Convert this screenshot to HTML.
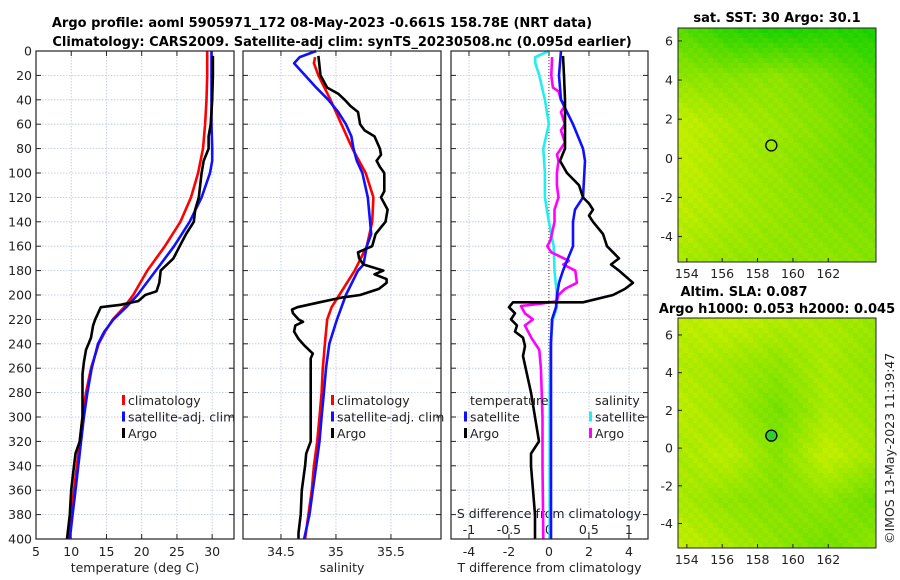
<!DOCTYPE html>
<html><head><meta charset="utf-8"><style>
body{margin:0;background:#fff;}
svg{display:block;font-family:"DejaVu Sans","Liberation Sans",sans-serif;}
.t{font-size:12.5px;fill:#222}
.b{font-weight:bold;font-size:13px;fill:#000}
</style></head><body>
<svg id="c" width="900" height="580" xmlns="http://www.w3.org/2000/svg">
<text class="b" x="322" y="27" text-anchor="middle">Argo profile: aoml 5905971_172 08-May-2023 -0.661S 158.78E (NRT data)</text>
<text class="b" x="342" y="46" text-anchor="middle">Climatology: CARS2009. Satellite-adj clim: synTS_20230508.nc (0.095d earlier)</text>
<text class="b" x="777" y="22" text-anchor="middle">sat. SST: 30 Argo: 30.1</text>
<text class="b" x="744" y="296" text-anchor="middle">Altim. SLA: 0.087</text>
<text class="b" x="777" y="313" text-anchor="middle">Argo h1000: 0.053 h2000: 0.045</text>
<text class="t" transform="translate(894,544) rotate(-90)">©IMOS 13-May-2023 11:39:47</text>
<g id="g"></g>
</svg>
<script>
// ---- data ----
const depthTicks=[0,20,40,60,80,100,120,140,160,180,200,220,240,260,280,300,320,340,360,380,400];
const tempTicks=[5,10,15,20,25,30];
const salTicks=[34.5,35,35.5];
const tdTicks=[-4,-2,0,2,4];
const sdTicks=[-1,-0.5,0,0.5,1];
const sdTickLabels=["-1","-0.5","0","0.5","1"];
const climTDepth=[0,20,40,60,80,100,120,140,160,180,200,210,220,230,240,260,280,300,320,340,360,380,400];
const climT=[29.3,29.3,29.2,29,28.7,28,27,25.5,23.3,20.8,18.8,17.5,15.9,14.8,13.9,12.8,12.1,11.6,11.2,10.8,10.4,10,9.6];
const satTDepth=[0,20,60,80,90,100,120,140,160,180,200,210,220,230,240,260,280,300,320,340,360,380,400];
const satT=[29.9,29.9,29.9,30,30,29.7,28.5,26.8,24.6,22,19.4,17.8,16,14.7,13.8,12.9,12.3,11.8,11.4,11,10.6,10.2,9.8];
const argoTDepth=[4,20,40,60,70,80,90,100,120,130,140,150,160,170,180,190,197,200,205,208,210,215,220,225,235,245,255,265,280,300,315,320,330,340,360,380,400];
const argoT=[30.1,30.1,30,29.8,29.5,29.5,28.8,28.5,28.1,27.6,27.4,26.3,25.4,24.5,22.7,22.5,22.1,20.5,19.5,17,14.2,13.8,13.4,13.1,12.8,12.1,11.8,11.6,11.6,11.6,11.3,11.2,10.6,10.4,10,9.8,9.4];
const climSDepth=[5,10,20,40,60,80,100,120,140,160,180,200,210,220,240,260,280,300,320,340,360,380,400];
const climS=[34.81,34.8,34.84,34.95,35.05,35.15,35.27,35.34,35.33,35.28,35.17,35.03,34.96,34.92,34.9,34.88,34.87,34.85,34.83,34.8,34.78,34.75,34.72];
const satSDepth=[0,5,10,20,30,40,50,60,70,80,90,100,120,140,150,160,175,180,200,220,240,260,280,300,320,340,360,380,400];
const satS=[34.82,34.67,34.62,34.72,34.82,34.93,35.02,35.09,35.14,35.16,35.19,35.24,35.29,35.31,35.32,35.28,35.25,35.2,35.09,35.01,34.94,34.91,34.89,34.87,34.85,34.82,34.79,34.76,34.71];
const argoSDepth=[4,20,30,35,40,45,50,60,65,70,80,85,90,95,100,115,120,130,140,150,160,165,170,175,180,183,187,190,195,200,202,206,210,212,215,220,222,225,230,236,242,248,252,255,265,300,320,330,340,360,380,395,400];
const argoS=[34.84,34.86,34.92,35.02,35.08,35.13,35.2,35.22,35.26,35.35,35.4,35.41,35.37,35.4,35.44,35.44,35.41,35.47,35.45,35.36,35.33,35.2,35.21,35.25,35.43,35.35,35.46,35.46,35.39,35.22,35.06,34.85,34.65,34.6,34.61,34.66,34.7,34.63,34.62,34.66,34.72,34.79,34.77,34.77,34.77,34.77,34.77,34.73,34.72,34.69,34.68,34.66,34.66];
const satTdDepth=[0,20,40,60,80,90,120,130,140,160,180,190,200,210,220,240,280,400];
const satTd=[0.6,0.5,0.6,1.2,1.7,1.8,1.7,1.3,1.2,1.2,0.7,0.5,0.4,0.35,0.15,0.1,0.1,0.1];
const argoTdDepth=[4,20,40,60,80,90,100,110,120,125,130,135,140,150,160,170,175,180,190,195,200,206,206,210,215,220,225,230,235,242,250,265,280,300,320,325,330,340,360,380,400];
const argoTd=[0.7,0.75,0.8,0.8,0.8,0.55,0.9,1.5,1.7,2,2.2,2,2.2,2.7,2.9,3.5,3.1,3.5,4.2,3.8,3.2,1.7,-1.8,-2,-1.7,-1.9,-1.6,-1.7,-1.3,-1.2,-1.3,-1.1,-0.9,-0.7,-0.5,-0.7,-0.9,-0.9,-0.8,-0.7,-0.7];
const satSdDepth=[0,5,10,20,40,60,80,100,120,140,160,180,200,210,220,240,280,400];
const satSd=[0,-0.17,-0.17,-0.12,-0.05,0,-0.07,-0.05,-0.05,0,0.06,0.07,0.1,0.1,0.05,0.02,0.01,0.01];
const argoSdDepth=[5,20,30,33,40,45,50,60,65,75,80,85,90,100,110,120,130,140,155,160,165,172,175,180,190,195,200,205,207,209,215,220,225,235,245,260,300,340,400];
const argoSd=[0.04,0.03,0.05,0.12,0.15,0.2,0.15,0.2,0.15,0.2,0.15,0.1,0.12,0.1,0.1,0.12,0.07,0.07,0.02,-0.02,0.03,0.25,0.18,0.33,0.35,0.2,0.12,0.1,-0.08,-0.35,-0.3,-0.2,-0.3,-0.22,-0.12,-0.1,-0.08,-0.08,-0.07];
const lonTicks=[154,156,158,160,162];
const latTicks=[6,4,2,0,-2,-4];
const sstGreen=[[0.6,0.85,0.95,0.9,0.95],[0.3,0.35,0.3,0.45,0.7],[0.0,0.15,0.25,0.35,0.55],[0.0,0.15,0.25,0.4,0.5],[0.05,0.15,0.25,0.35,0.4],[0.15,0.25,0.3,0.3,0.35]];
const slaGreen=[[0.05,0.0,0.1,0.15,0.25],[0.1,0.2,0.3,0.15,0.3],[0.05,0.2,0.45,0.15,0.25],[0.15,0.05,0.35,0.0,0.2],[0.15,0.3,0.35,0.3,0.5],[0.0,0.15,0.3,0.45,0.3]];
const argoLon=158.78, argoLat=0.66;

// ---- drawing ----
const NS="http://www.w3.org/2000/svg";
const G=document.getElementById('g');
function mk(tag,attrs,parent){const e=document.createElementNS(NS,tag);for(const k in attrs)e.setAttribute(k,attrs[k]);(parent||G).appendChild(e);return e;}
const Y0=51,Y1=539;
const yD=d=>Y0+(d/400)*(Y1-Y0);
function lin(d0,d1,r0,r1){return v=>r0+(v-d0)/(d1-d0)*(r1-r0);}
const panels=[
 {x0:36,x1:234,sx:lin(5,33.1,36,234),ticks:tempTicks,lab:tempTicks.map(String),title:'temperature (deg C)',name:'temperature'},
 {x0:243,x1:441,sx:lin(34.155,35.955,243,441),ticks:salTicks,lab:["34.5","35","35.5"],title:'salinity',name:'salinity'},
 {x0:451,x1:648,sx:lin(-4.9,4.95,451,648),ticks:tdTicks,lab:tdTicks.map(String),title:'T difference from climatology',name:'difference'}
];
const sdX=lin(-1.225,1.24,451,648);
panels.forEach((p,i)=>{
 const g=mk('g',{});
 
 
 depthTicks.forEach(d=>{const l=mk('line',{x1:p.x0,x2:p.x1,y1:yD(d),y2:yD(d),stroke:'#b8c4e0','stroke-width':0.8,'stroke-dasharray':'1.5,1.5'},g);
  
  mk('line',{x1:p.x0,x2:p.x0+5,y1:yD(d),y2:yD(d),stroke:'#222'},g);mk('line',{x1:p.x1-5,x2:p.x1,y1:yD(d),y2:yD(d),stroke:'#222'},g);
  if(i===0){const t=mk('text',{x:p.x0-4,y:yD(d)+4.5,'text-anchor':'end',class:'t'},g);t.textContent=d;
   }
 });
 p.ticks.forEach((v,j)=>{const x=p.sx(v);
  mk('line',{x1:x,x2:x,y1:Y0,y2:Y1,stroke:'#b8c4e0','stroke-width':0.8,'stroke-dasharray':'1.5,1.5'},g);
  mk('line',{x1:x,x2:x,y1:Y1-5,y2:Y1,stroke:'#222'},g);mk('line',{x1:x,x2:x,y1:Y0,y2:Y0+5,stroke:'#222'},g);
  const t=mk('text',{x:x,y:556,'text-anchor':'middle',class:'t'},g);t.textContent=p.lab[j];
  });
 const tt=mk('text',{x:(p.x0+p.x1)/2,y:572,'text-anchor':'middle',class:'t'},g);tt.textContent=p.title;
 
});
sdTicks.forEach((v,j)=>{const t=mk('text',{x:sdX(v),y:534,'text-anchor':'middle',class:'t'});t.textContent=sdTickLabels[j];
 
 mk('line',{x1:sdX(v),x2:sdX(v),y1:Y1-4,y2:Y1,stroke:'#222'});});
const st=mk('text',{x:549,y:518,'text-anchor':'middle',class:'t'});st.textContent='S difference from climatology';

const zl=mk('line',{x1:sdX(0),x2:sdX(0),y1:Y0,y2:Y1,stroke:'#444','stroke-dasharray':'1,2'});

function line(depths,vals,sx,color,name){
 const pts=depths.map((d,k)=>sx(vals[k]).toFixed(1)+','+yD(d).toFixed(1)).join(' ');
 const e=mk('polyline',{points:pts,fill:'none',stroke:color,'stroke-width':2.6,'stroke-linejoin':'round'});
 }
const P=panels;
line(climTDepth,climT,P[0].sx,'#f00','temp-climatology-line');
line(satTDepth,satT,P[0].sx,'#1010ff','temp-satellite-line');
line(argoTDepth,argoT,P[0].sx,'#000','temp-argo-line');
line(climSDepth,climS,P[1].sx,'#f00','sal-climatology-line');
line(satSDepth,satS,P[1].sx,'#1010ff','sal-satellite-line');
line(argoSDepth,argoS,P[1].sx,'#000','sal-argo-line');
line(satSdDepth,satSd,sdX,'#22eeee','sdiff-satellite-line');
line(argoSdDepth,argoSd,sdX,'#f0f','sdiff-argo-line');
line(satTdDepth,satTd,P[2].sx,'#1010ff','tdiff-satellite-line');
line(argoTdDepth,argoTd,P[2].sx,'#000','tdiff-argo-line');
panels.forEach(p=>{const r=mk('rect',{x:p.x0,y:Y0,width:p.x1-p.x0,height:Y1-Y0,fill:'none',stroke:'#222','stroke-width':1.2});
 });
// legends
function leg(x,y,color,label){const g=mk('g',{});
 mk('rect',{x:x,y:y-10,width:3,height:10,fill:color},g);const t=mk('text',{x:x+6,y:y,class:'t'},g);t.textContent=label;}
[[122,'#f00','climatology',0],[122,'#1010ff','satellite-adj. clim',1],[122,'#000','Argo',2],
 [331,'#f00','climatology',0],[331,'#1010ff','satellite-adj. clim',1],[331,'#000','Argo',2]].forEach(a=>leg(a[0],405+a[3]*16.5,a[1],a[2]));
const lt=mk('text',{x:470,y:405,class:'t'});lt.textContent='temperature';
const ls=mk('text',{x:595,y:405,class:'t'});ls.textContent='salinity';
leg(464,421.5,'#1010ff','satellite');leg(464,438,'#000','Argo');leg(589,421.5,'#22eeee','satellite');leg(589,438,'#f0f','Argo');
// maps
function map(y0,y1,lat0,lat1,grid,name,fillCircle){
 const x0=678,x1=876,lon0=153.5,lon1=164.7;
 const mx=lin(lon0,lon1,x0,x1),my=lin(lat1,lat0,y0,y1);
 const g=mk('g',{});
 const cs=5,nx=Math.ceil((x1-x0)/cs),ny=Math.ceil((y1-y0)/cs);
 for(let j=0;j<ny;j++)for(let i=0;i<nx;i++){
  const u=i/(nx-1)*4,v=j/(ny-1)*5,iu=Math.min(3,Math.floor(u)),iv=Math.min(4,Math.floor(v)),fu=u-iu,fv=v-iv;
  let gv=grid[iv][iu]*(1-fu)*(1-fv)+grid[iv][iu+1]*fu*(1-fv)+grid[iv+1][iu]*(1-fu)*fv+grid[iv+1][iu+1]*fu*fv;
  gv+=(((i*7+j*13)%5)-2)*0.025;gv=Math.max(0,Math.min(1,gv));
  const r=Math.round(195-175*gv),gg=Math.round(238-30*gv);
  mk('rect',{x:x0+i*cs,y:y0+j*cs,width:Math.min(cs,x1-x0-i*cs),height:Math.min(cs,y1-y0-j*cs),fill:`rgb(${r},${gg},0)`},g);}
 const c=mk('circle',{cx:mx(argoLon),cy:my(argoLat),r:5.5,fill:fillCircle?'#3c3':'none',stroke:'#000','stroke-width':1.3},g);
 
 mk('rect',{x:x0,y:y0,width:x1-x0,height:y1-y0,fill:'none',stroke:'#222'},g);
 lonTicks.forEach(v=>{const t=mk('text',{x:mx(v),y:y1+16,'text-anchor':'middle',class:'t'},g);t.textContent=v;
  
  mk('line',{x1:mx(v),x2:mx(v),y1:y1-4,y2:y1,stroke:'#222'},g);});
 latTicks.forEach(v=>{const t=mk('text',{x:x0-5,y:my(v)+4.5,'text-anchor':'end',class:'t'},g);t.textContent=v;
  
  mk('line',{x1:x0,x2:x0+4,y1:my(v),y2:my(v),stroke:'#222'},g);});
}
map(28,262,-5.3,6.66,sstGreen,'sst-map',false);
map(318,548,-5.3,6.9,slaGreen,'sla-map',true);
</script>
</body></html>
